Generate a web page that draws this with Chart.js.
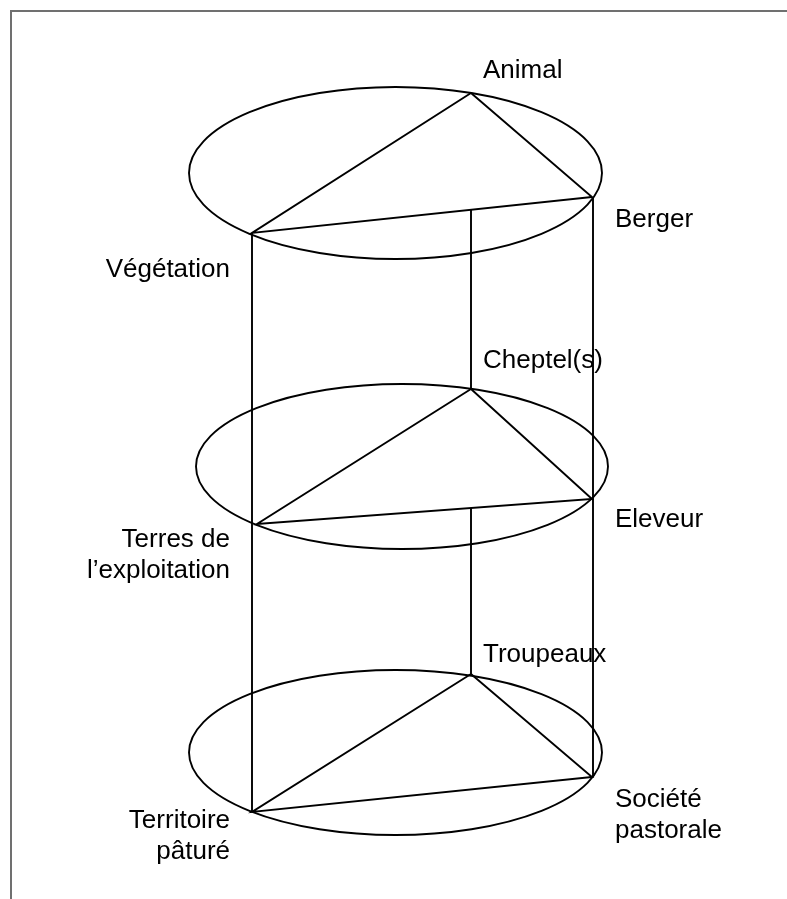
<!DOCTYPE html>
<html lang="fr">
<head>
<meta charset="utf-8">
<title>Pastoralisme - trois niveaux</title>
<script src="https://cdn.jsdelivr.net/npm/chart.js@4.4.1/dist/chart.umd.min.js"></script>
<style>
    html, body { margin: 0; padding: 0; background: #fff; }
    #wrap { position: relative; width: 787px; height: 899px; overflow: hidden; }
    #cadre {
        position: absolute; left: 10px; top: 10px; right: -4px; bottom: -4px;
        border-top: 2px solid #707070; border-left: 2px solid #707070;
    }
    #schema { position: absolute; left: 0; top: 0; }
</style>
</head>
<body>
<div id="wrap">
    <div id="cadre"></div>
    <canvas id="schema" width="787" height="899"></canvas>
</div>
<script>
// Ellipses (centre et rayons, en unités du dessin)
const ellipseCx = [395.5, 402, 395.5];
const ellipseCy = [173, 466.5, 752.5];
const ellipseRx = [206.5, 206, 206.5];
const ellipseRy = [86, 82.5, 82.5];

// Sommets des triangles : haut, droit, gauche (un par niveau)
const sommetHautX = [471, 471, 471];
const sommetHautY = [93, 389, 674];
const sommetDroitX = [592, 592, 592];
const sommetDroitY = [197, 499, 777];
const sommetGaucheX = [252, 257, 252];
const sommetGaucheY = [233, 524, 812];

// Verticales qui relient les niveaux
const verticaleX = [252, 593, 471, 471];
const verticaleHaut = [233, 197, 210, 508];
const verticaleBas = [812, 777, 389, 674];

// Étiquettes (une ligne par élément du sous-tableau)
const etiquettes = [
    ['Animal'], ['Berger'], ['Végétation'],
    ['Cheptel(s)'], ['Eleveur'], ['Terres de', 'l\u2019exploitation'],
    ['Troupeaux'], ['Société', 'pastorale'], ['Territoire', 'pâturé']
];
const etiquetteX = [483, 615, 230, 483, 615, 230, 483, 615, 230];
const etiquetteY = [78, 227, 277, 368, 527, 547, 662, 807, 828];

// Construire les segments
const datasets = [];
for (let i = 0; i < sommetHautX.length; i++) {
    datasets.push({
        label: 'triangle ' + i,
        data: [
            { x: sommetHautX[i], y: sommetHautY[i] },
            { x: sommetDroitX[i], y: sommetDroitY[i] },
            { x: sommetGaucheX[i], y: sommetGaucheY[i] },
            { x: sommetHautX[i], y: sommetHautY[i] }
        ]
    });
}
for (let i = 0; i < verticaleX.length; i++) {
    datasets.push({
        label: 'verticale ' + i,
        data: [
            { x: verticaleX[i], y: verticaleHaut[i] },
            { x: verticaleX[i], y: verticaleBas[i] }
        ]
    });
}
datasets.forEach(ds => {
    ds.showLine = true;
    ds.borderColor = '#000';
    ds.borderWidth = 1.9;
    ds.pointRadius = 0;
    ds.fill = false;
    ds.tension = 0;
});

// Plugin pour les ellipses et les textes
const schemaPlugin = {
    id: 'schema',
    beforeDatasetsDraw(chart) {
        const ctx = chart.ctx;
        const xs = chart.scales.x;
        const ys = chart.scales.y;
        ctx.save();
        ctx.strokeStyle = '#000';
        ctx.lineWidth = 1.9;
        for (let i = 0; i < ellipseCx.length; i++) {
            const cx = xs.getPixelForValue(ellipseCx[i]);
            const cy = ys.getPixelForValue(ellipseCy[i]);
            const rx = Math.abs(xs.getPixelForValue(ellipseCx[i] + ellipseRx[i]) - cx);
            const ry = Math.abs(ys.getPixelForValue(ellipseCy[i] + ellipseRy[i]) - cy);
            ctx.beginPath();
            ctx.ellipse(cx, cy, rx, ry, 0, 0, Math.PI * 2);
            ctx.stroke();
        }
        ctx.restore();
    },
    afterDatasetsDraw(chart) {
        const ctx = chart.ctx;
        const xs = chart.scales.x;
        const ys = chart.scales.y;
        ctx.save();
        ctx.fillStyle = '#000';
        ctx.font = '26px "Liberation Sans", Arial, sans-serif';
        ctx.textBaseline = 'alphabetic';
        etiquettes.forEach((lignes, i) => {
            const x = xs.getPixelForValue(etiquetteX[i]);
            // à gauche du schéma : alignement à droite
            ctx.textAlign = etiquetteX[i] < ellipseCx[0] ? 'right' : 'left';
            lignes.forEach((ligne, j) => {
                const y = ys.getPixelForValue(etiquetteY[i]) + j * 31;
                ctx.fillText(ligne, x, y);
            });
        });
        ctx.restore();
    }
};

new Chart(document.getElementById('schema'), {
    type: 'scatter',
    data: { datasets: datasets },
    options: {
        responsive: false,
        animation: false,
        events: [],
        layout: { padding: 0 },
        plugins: {
            legend: { display: false },
            tooltip: { enabled: false }
        },
        scales: {
            x: { type: 'linear', min: 0, max: 787, display: false },
            y: { type: 'linear', min: 0, max: 899, reverse: true, display: false }
        }
    },
    plugins: [schemaPlugin]
});
</script>
</body>
</html>
